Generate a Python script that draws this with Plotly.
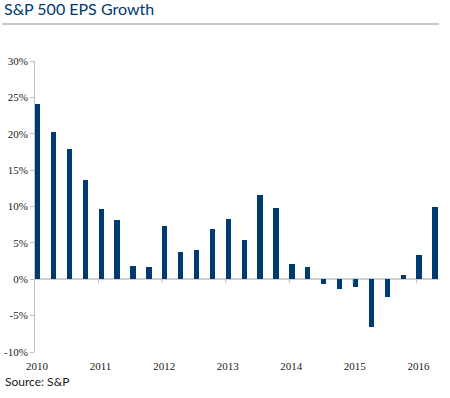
import plotly.graph_objects as go

# Quarterly S&P 500 EPS growth (%), 2010Q1 .. 2016Q2
quarters = [2010 + i * 0.25 for i in range(26)]
eps_growth = [24.1, 20.2, 17.9, 13.6, 9.6, 8.2, 1.8, 1.7,
              7.35, 3.7, 4.0, 6.9, 8.3, 5.4, 11.6, 9.8,
              2.1, 1.7, -0.6, -1.4, -1.1, -6.5, -2.4, 0.6,
              3.3, 10.0]
year_ticks = [2010, 2011, 2012, 2013, 2014, 2015, 2016]
year_labels = [str(y) for y in year_ticks]
y_ticks = [-10, -5, 0, 5, 10, 15, 20, 25, 30]
y_labels = [f"{v}%" for v in y_ticks]

NAVY = "#003a70"
GRAY = "#c8c8c8"
SERIF = "Liberation Serif, Times New Roman, serif"

fig = go.Figure()
fig.add_trace(go.Bar(
    x=quarters, y=eps_growth,
    width=0.084, offset=0,
    marker=dict(color=NAVY, line=dict(width=0)),
    hoverinfo="skip",
))

# small tick marks on the zero line at each year
shapes = []
for yr in year_ticks[1:]:
    shapes.append(dict(type="line", xref="x", yref="y", x0=yr, x1=yr,
                       ysizemode="pixel", yanchor=0, y0=0, y1=-4,
                       line=dict(color="#bfbfbf", width=1)))
# rule under the title
shapes.append(dict(type="line", xref="paper", yref="paper",
                   x0=-0.0819, x1=1.0025, y0=1.127, y1=1.127,
                   line=dict(color=GRAY, width=2)))

fig.update_layout(
    width=450, height=398,
    margin=dict(l=35, r=12, t=61, b=46),
    paper_bgcolor="white", plot_bgcolor="white",
    showlegend=False,
    title=dict(text="S&P 500 EPS Growth", xref="container", yref="container",
               x=4/450, xanchor="left", y=1 - 9/398, yanchor="middle",
               pad=dict(t=0, b=0, l=0, r=0),
               font=dict(family="Lato", size=16, color=NAVY)),
    shapes=shapes,
    annotations=[dict(text="Source: S&P", xref="paper", yref="paper",
                      x=-0.0794, y=-0.102, xanchor="left", yanchor="middle",
                      showarrow=False,
                      font=dict(family="Lato", size=12, color="#222222"))],
    xaxis=dict(range=[2010, 2016.34], tickvals=year_ticks, ticktext=year_labels,
               showline=False, showgrid=False, zeroline=False, ticks="",
               ticklabelstandoff=6, ticklabelshift=2, automargin=False,
               tickfont=dict(family=SERIF, size=11, color="#222222"),
               fixedrange=True),
    yaxis=dict(range=[-10, 30], tickvals=y_ticks, ticktext=y_labels,
               showline=True, linecolor="#bfbfbf", linewidth=1,
               ticks="outside", ticklen=4, tickcolor="#bfbfbf",
               showgrid=False, zeroline=True, zerolinecolor="#d0d0d0",
               zerolinewidth=2, automargin=False,
               tickfont=dict(family=SERIF, size=11, color="#222222"),
               fixedrange=True),
    bargap=0,
)

fig.write_html("out.html", config={"displayModeBar": False},
               post_script="document.body.style.margin='0';")
